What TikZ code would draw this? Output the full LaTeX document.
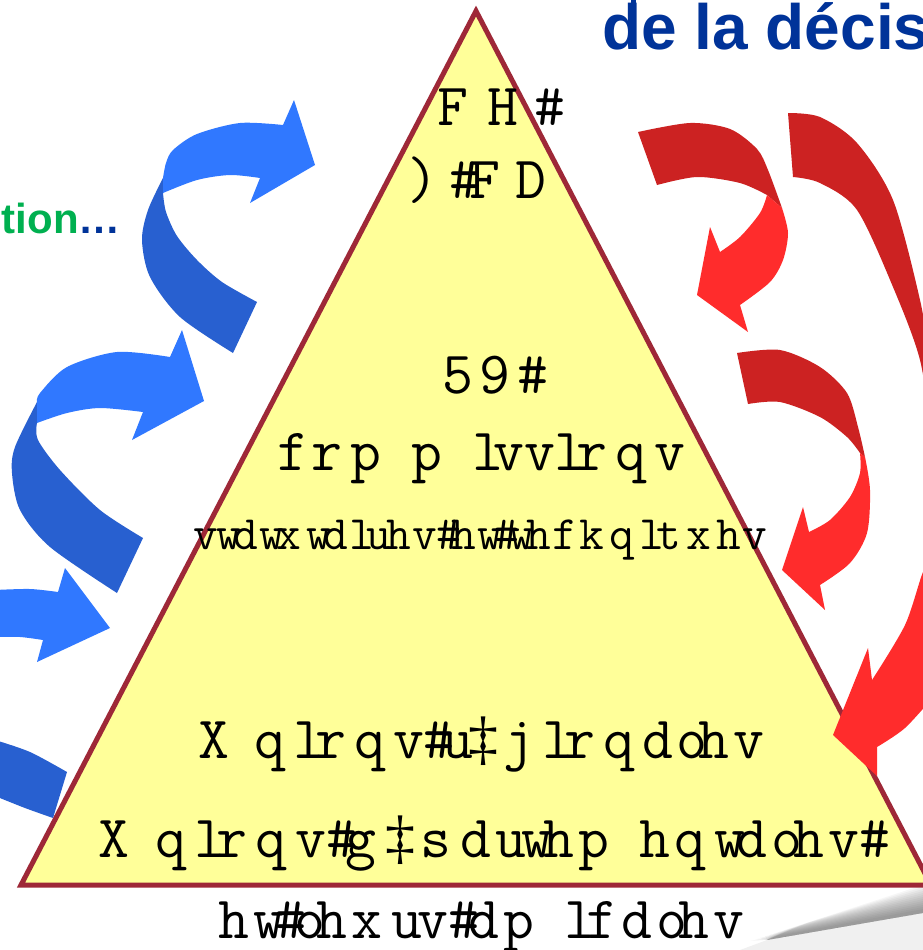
\documentclass[tikz,border=0pt]{standalone}
\usepackage{fontspec}
\newfontfamily\lsans{Liberation Sans}
\newfontfamily\ddfont{Liberation Serif}
\definecolor{tri}{RGB}{158,40,55}
\definecolor{trifill}{RGB}{255,255,153}
\definecolor{bluel}{RGB}{48,120,255}
\definecolor{blued}{RGB}{40,96,208}
\definecolor{redl}{RGB}{255,44,44}
\definecolor{redd}{RGB}{204,34,34}
\definecolor{navy}{RGB}{0,51,153}
\definecolor{grn}{RGB}{0,176,80}
\newlength\advunit
\newcommand\G[2]{\makebox[#1\advunit][l]{#2}}
\newcommand\dd{{\ddfont ‡}}
\begin{document}
\begin{tikzpicture}[x=1pt,y=-1pt,
  bigglyph/.style={anchor=base west, inner sep=0pt, outer sep=0pt,
    font=\ttfamily\fontsize{60}{60}\selectfont\addfontfeature{FakeStretch=1.12},
    execute at begin node={\setlength\advunit{#1}}},
  bigglyph/.default=0.076pt,
  smallglyph/.style={anchor=base west, inner sep=0pt, outer sep=0pt,
    font=\ttfamily\fontsize{48}{48}\selectfont\addfontfeature{FakeStretch=1.12},
    execute at begin node={\setlength\advunit{0.060pt}}}]
\path[use as bounding box] (0,0) rectangle (923,950);
\clip (0,0) rectangle (923,950);
\fill[white] (0,0) rectangle (923,950);
% shadow
\fill[black, opacity=0.06] (740,950) -- (767,940) -- (923,913) -- (923,950) -- cycle;
\foreach \k in {0,...,12}{
  \fill[black, opacity=0.035] ({750+5*\k},{941-1.6*\k}) -- (923,{909-2*\k}) -- (923,913) -- (767,940) -- cycle;
}
% triangle
\draw[tri, line width=5pt, fill=trifill, line join=miter] (476,11) -- (931,885) -- (21,885) -- cycle;
% blue arrow 1
\fill[blued] (163,178) -- plot[smooth] coordinates {(163,178) (148,210) (142,240) (150,277) (180,317) (233,353)} -- (257,302) -- plot[smooth] coordinates {(257,302) (222,282) (197,260) (177,236) (166,212) (163,193)} -- cycle;
\fill[bluel] (163,193) -- (163,178) -- plot[smooth] coordinates {(163,178) (166,163) (173,150) (197,134) (240,123) (283,125)} -- (294,100) -- (315,165) -- (250,203) -- (260,178) -- plot[smooth] coordinates {(260,178) (230,175) (197,180) (163,193)} -- cycle;
% blue arrow 2
\fill[blued] (37,402) -- plot[smooth] coordinates {(37,402) (15,447) (12,473) (20,510) (50,547) (117,593)} -- (143,538) -- plot[smooth] coordinates {(143,538) (100,510) (60,470) (38,440) (37,423)} -- cycle;
\fill[bluel] (37,423) -- (37,402) -- plot[smooth] coordinates {(37,402) (40,393) (67,367) (117,352) (170,357)} -- (182,330) -- (204,401) -- (132,440) -- (143,412) -- plot[smooth] coordinates {(143,412) (100,408) (67,413) (37,423)} -- cycle;
% blue arrow 3
\fill[bluel] (-5,590) -- plot[smooth] coordinates {(-5,590) (30,589) (58,592)} -- (65,568) -- (110,628) -- (37,662) -- (43,640) -- plot[smooth] coordinates {(43,640) (20,637) (-5,637)} -- cycle;
\fill[blued] (-5,740) -- plot[smooth] coordinates {(-5,740) (30,752) (67,772)} -- (53,818) -- plot[smooth] coordinates {(53,818) (25,808) (-5,796)} -- cycle;
% red arrow 1
\fill[redd] (638,132) -- plot[smooth] coordinates {(638,132) (690,123) (730,129) (757,149) (768,170) (782,208)} -- (767,195) -- plot[smooth] coordinates {(767,195) (740,183) (697,177) (657,185)} -- cycle;
\fill[redl] (767,195) -- (782,208) -- plot[smooth] coordinates {(782,208) (788,233) (783,260) (770,282) (740,305)} -- (748,332) -- (697,295) -- (710,227) -- (720,252) -- plot[smooth] coordinates {(720,252) (740,237) (760,213) (767,195)} -- cycle;
% red arrow 2
\fill[redd] (788,113) -- plot[smooth] coordinates {(788,113) (820,117) (857,143) (893,200) (920,300) (932,370)} -- (932,440) -- plot[smooth] coordinates {(932,440) (920,360) (893,287) (857,210) (820,183) (793,177)} -- cycle;
\fill[redl] (935,555) -- plot[smooth] coordinates {(935,555) (923,572) (905,625) (872,680)} -- (868,648) -- (833,735) -- (877,776) -- (877,747) -- plot[smooth] coordinates {(877,747) (905,728) (935,695)} -- cycle;
% red arrow 3
\fill[redd] (737,353) -- plot[smooth] coordinates {(737,353) (780,350) (820,367) (847,393) (858,427) (865,457)} -- (860,453) -- plot[smooth] coordinates {(860,453) (847,437) (820,417) (780,402) (748,404)} -- cycle;
\fill[redl] (860,453) -- (865,457) -- plot[smooth] coordinates {(865,457) (870,490) (867,533) (850,563) (820,585)} -- (825,610) -- (782,570) -- (803,507) -- (809,532) -- plot[smooth] coordinates {(809,532) (830,520) (850,497) (860,473) (860,453)} -- cycle;
% title texts
\node[anchor=base west, inner sep=0pt, text=navy, font=\lsans\bfseries\fontsize{64}{64}\selectfont] (title) at (602,50) {de la décis};
\fill[navy] (631,0) rectangle (636,6);
\node[anchor=base east, inner sep=0pt, font=\lsans\bfseries\fontsize{42}{42}\selectfont] (tion) at (121,233) {\textcolor{grn}{tion}\textcolor{navy}{…}};
% pyramid texts
\node[bigglyph] (t1) at (437,125) {\G{667}{F}\G{611}{H}\G{250}{\#}};
\node[bigglyph] (t2) at (407,198) {\G{566}{)}\G{250}{\#}\G{605}{F}\G{722}{D}};
\node[bigglyph] (t3) at (442,393) {\G{500}{5}\G{500}{9}\G{250}{\#}};
\node[bigglyph=0.078pt] (t4) at (277,470) {\G{444}{f}\G{500}{r}\G{778}{p}\G{778}{p}\G{278}{l}\G{389}{v}\G{389}{v}\G{278}{l}\G{500}{r}\G{500}{q}\G{389}{v}};
\node[smallglyph] (t5) at (193,549) {\G{389}{v}\G{278}{w}\G{444}{d}\G{278}{w}\G{500}{x}\G{278}{w}\G{444}{d}\G{278}{l}\G{333}{u}\G{444}{h}\G{389}{v}\G{250}{\#}\G{444}{h}\G{278}{w}\G{250}{\#}\G{278}{w}\G{444}{h}\G{444}{f}\G{500}{k}\G{500}{q}\G{278}{l}\G{500}{t}\G{500}{x}\G{444}{h}\G{389}{v}};
\node[bigglyph=0.078pt] (t6) at (198,758) {\G{722}{X}\G{500}{q}\G{278}{l}\G{500}{r}\G{500}{q}\G{389}{v}\G{250}{\#}\G{333}{u}\G{444}{\dd}\G{500}{j}\G{278}{l}\G{500}{r}\G{500}{q}\G{444}{d}\G{278}{o}\G{444}{h}\G{389}{v}};
\node[bigglyph=0.079pt] (t7) at (98,857) {\G{722}{X}\G{500}{q}\G{278}{l}\G{500}{r}\G{500}{q}\G{389}{v}\G{250}{\#}\G{500}{g}\G{444}{\dd}\G{500}{s}\G{444}{d}\G{333}{u}\G{278}{w}\G{444}{h}\G{778}{p}\G{444}{h}\G{500}{q}\G{278}{w}\G{444}{d}\G{278}{o}\G{444}{h}\G{389}{v}\G{250}{\#}};
\node[bigglyph=0.079pt] (t8) at (218,938) {\G{444}{h}\G{278}{w}\G{250}{\#}\G{278}{o}\G{444}{h}\G{500}{x}\G{333}{u}\G{389}{v}\G{250}{\#}\G{444}{d}\G{778}{p}\G{278}{l}\G{444}{f}\G{444}{d}\G{278}{o}\G{444}{h}\G{389}{v}};
\end{tikzpicture}
\end{document}
